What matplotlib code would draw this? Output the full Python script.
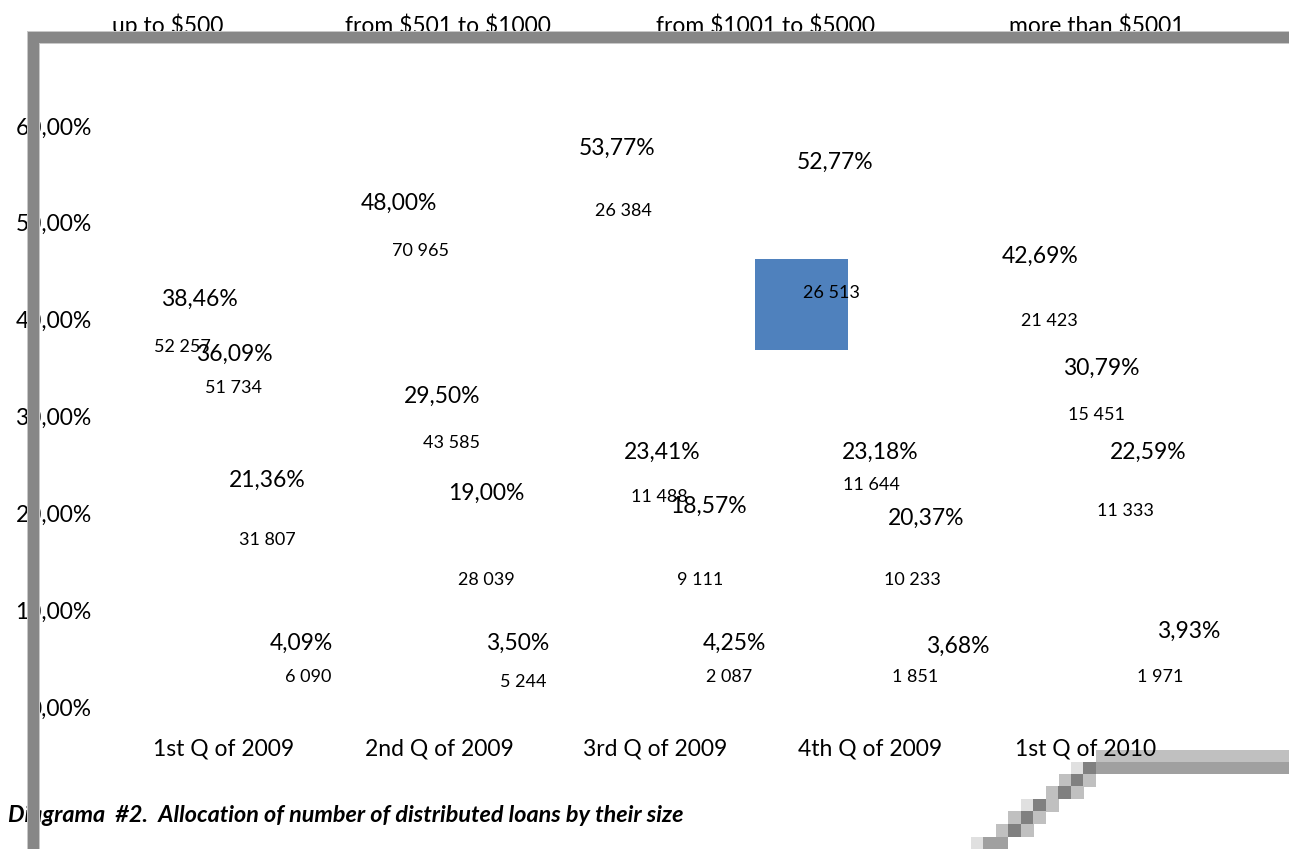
import matplotlib
matplotlib.use("Agg")
import matplotlib.pyplot as plt
from matplotlib.patches import Rectangle

# ---------------- data ----------------
categories = ["1st Q of 2009", "2nd Q of 2009", "3rd Q of 2009", "4th Q of 2009", "1st Q of 2010"]
series_names = ["up to $500", "from $501 to $1000", "from $1001 to $5000", "more than $5001"]

share_up_to_500 = [38.46, 48.00, 53.77, 52.77, 42.69]
share_501_1000 = [36.09, 29.50, 23.41, 23.18, 30.79]
share_1001_5000 = [21.36, 19.00, 18.57, 20.37, 22.59]
share_over_5001 = [4.09, 3.50, 4.25, 3.68, 3.93]

count_up_to_500 = [52257, 70965, 26384, 26513, 21423]
count_501_1000 = [51734, 43585, 11488, 11644, 15451]
count_1001_5000 = [31807, 28039, 9111, 10233, 11333]
count_over_5001 = [6090, 5244, 2087, 1851, 1971]

y_ticks = [0, 10, 20, 30, 40, 50, 60]
title_text = "Diagrama  #2.  Allocation of number of distributed loans by their size"

shares = [share_up_to_500, share_501_1000, share_1001_5000, share_over_5001]
counts = [count_up_to_500, count_501_1000, count_1001_5000, count_over_5001]

# ---------------- layout / style ----------------
W, H = 1296, 849
FONT = "Lato"
plt.rcParams["font.family"] = [FONT, "DejaVu Sans"]

bar_offsets = [-37 / 215.5, 9 / 215.5, 52 / 215.5, 86 / 215.5]
bar_width = 40 / 215.5

# label nudges in pixels relative to (bar centre, bar top); +dy = downward
pct_dx = [[13, -3.5, -1, 1.5, -9], [2, -6.5, -2, 0.5, 7], [-8, -4.5, 2, 3.5, 10], [-8, -7.5, -6, 1.5, 17]]
pct_dy = [[-35, -39, -38, -34, -37], [-3, -25, -28, -30, -41], [-20, -30, -21, 9, -36], [-24, -30, -23, -25, -38]]
cnt_dx = [[-4, 18.5, 6, -1.5, 1], [1, 3.5, -4, -7.5, 2], [-8, -4.5, -7, -9.5, -12], [-2, -1.5, -12, -41.5, -12]]
cnt_dy = [[12, 9, 25, 97, 27], [30, 22, 17, 2, 6], [40, 57, 53, 70, 23], [10, 9, 11, 6, 8]]

legend_x = [168, 448, 766, 1097]

fig = plt.figure(figsize=(W / 100, H / 100), dpi=100)
fig.patch.set_facecolor("white")

ax_left, ax_right, ax_top, ax_bottom = 116, 1193.5, 126, 707
ax = fig.add_axes([ax_left / W, 1 - ax_bottom / H, (ax_right - ax_left) / W, (ax_bottom - ax_top) / H])
ax.patch.set_visible(False)
ax.set_xlim(-0.5, len(categories) - 0.5)
ax.set_ylim(0, 60)
for s in ax.spines.values():
    s.set_visible(False)

# invisible bars (the source rendering shows no bar fills)
for j, vals in enumerate(shares):
    xs = [i + bar_offsets[j] for i in range(len(categories))]
    ax.bar(xs, vals, width=bar_width, color="none", edgecolor="none")

# stray fill fragment of the first series in the 4th quarter
ax.add_patch(Rectangle((3 - 0.535, 36.9), 0.43, 9.4, facecolor="#4F81BD", edgecolor="none", zorder=2))

def fmt_pct(v):
    return f"{v:.2f}".replace(".", ",") + "%"

def fmt_cnt(v):
    return f"{v:,}".replace(",", " ")

for j in range(len(shares)):
    for i in range(len(categories)):
        x = i + bar_offsets[j]
        v = shares[j][i]
        ax.annotate(fmt_pct(v), (x, v), xytext=(pct_dx[j][i], -pct_dy[j][i]),
                    textcoords="offset pixels", ha="center", va="center",
                    fontsize=16.5, color="black", zorder=5)
        ax.annotate(fmt_cnt(counts[j][i]), (x, v), xytext=(cnt_dx[j][i], -cnt_dy[j][i]),
                    textcoords="offset pixels", ha="center", va="center",
                    fontsize=13, color="black", zorder=5)

ax.set_yticks(y_ticks)
ax.set_yticklabels([f"{t},00%" for t in y_ticks], fontsize=16.5)
ax.tick_params(axis="y", length=0, pad=17.5)
ax.set_xticks(range(len(categories)))
ax.set_xticklabels(categories, fontsize=16.5)
ax.tick_params(axis="x", length=0, pad=22.5)

# legend (no swatches visible in source)
for name, lx in zip(series_names, legend_x):
    fig.text(lx / W, 1 - 33 / H, name, ha="center", va="baseline", fontsize=16.5,
             zorder=3, parse_math=False)

# title
fig.text(8 / W, 1 - 815 / H, title_text, ha="left", va="center", fontsize=16.8,
         fontweight="bold", fontstyle="italic", zorder=3, parse_math=False)

# ---------------- frame decoration ----------------
def px_rect(x0, y0, x1, y1, color, z):
    r = Rectangle((x0 / W, 1 - y1 / H), (x1 - x0) / W, (y1 - y0) / H,
                  transform=fig.transFigure, facecolor=color, edgecolor="none", zorder=z)
    fig.add_artist(r)

# top / left frame bars (above text)
px_rect(27, 31, 1289, 44, "#c8c8c8", 10)
px_rect(27, 31, 40, H, "#c8c8c8", 10)
px_rect(28, 32, 1289, 43, "#878787", 11)
px_rect(28, 32, 39, H, "#878787", 11)

# bottom-right pixelated corner (below text)
px_rect(1096, 750, 1289, 762, "#c0c0c0", -1)
px_rect(1096, 762, 1289, 774, "#a0a0a0", -1)
blocks = [
    (1071, 762, "#e0e0e0"), (1083, 762, "#808080"),
    (1059, 774, "#c0c0c0"), (1071, 774, "#808080"), (1083, 774, "#c0c0c0"),
    (1046, 786, "#c0c0c0"), (1058, 786, "#808080"), (1071, 786, "#c0c0c0"),
    (1021, 799, "#e0e0e0"), (1033, 799, "#808080"), (1046, 799, "#c0c0c0"),
    (1008, 811, "#c0c0c0"), (1021, 811, "#808080"), (1033, 811, "#c0c0c0"),
    (996, 824, "#c0c0c0"), (1008, 824, "#808080"), (1021, 824, "#c0c0c0"),
    (971, 837, "#e0e0e0"), (983, 837, "#a0a0a0"), (995, 837, "#a0a0a0"),
]
for bx, by, bc in blocks:
    px_rect(bx, by, bx + 12.5, by + 12.5, bc, -1)

fig.savefig("out.png", dpi=100, facecolor="white")
